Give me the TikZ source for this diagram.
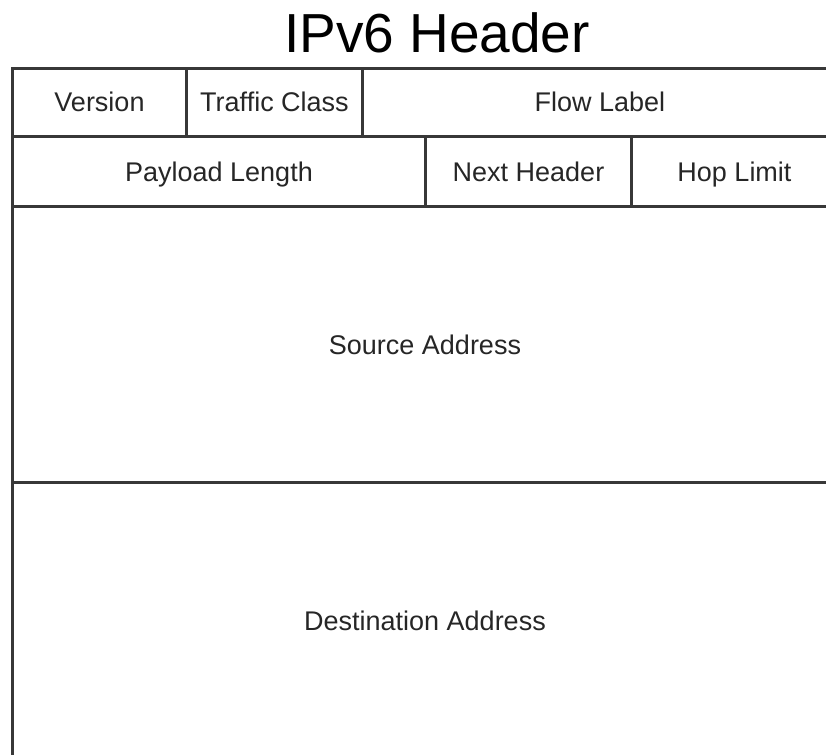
\documentclass[tikz,border=0pt]{standalone}
\usepackage{fontspec}
\setmainfont{Liberation Sans}
\tikzset{
  field/.style={draw=black!78, line width=3pt, rectangle, inner sep=0pt,
    anchor=north west, text=black!85, font=\fontsize{27}{30}\selectfont,
    text height=20pt, text depth=1pt},
}
\begin{document}
\begin{tikzpicture}[x=1pt,y=-1pt]
\useasboundingbox (0,0) rectangle (826,754);
\node[anchor=base, font=\fontsize{55}{60}\selectfont] (title) at (437,53) {IPv6 Header};

% first word
\node[field, minimum width=174pt, minimum height=68pt] (version) at (11,67) {Version};
\node[field, minimum width=176pt, minimum height=68pt] (traffic) at (185,67) {Traffic Class};
\node[field, minimum width=475pt, minimum height=68pt] (flow) at (361,67) {Flow Label};

% second word
\node[field, minimum width=413pt, minimum height=70pt] (payload) at (11,135) {Payload Length};
\node[field, minimum width=206pt, minimum height=70pt] (next) at (424,135) {Next Header};
\node[field, minimum width=206pt, minimum height=70pt] (hop) at (630,135) {Hop Limit};

% addresses
\node[field, minimum width=825pt, minimum height=276pt] (src) at (11,205) {Source Address};
\node[field, minimum width=825pt, minimum height=276pt] (dst) at (11,481) {Destination Address};
\end{tikzpicture}
\end{document}
